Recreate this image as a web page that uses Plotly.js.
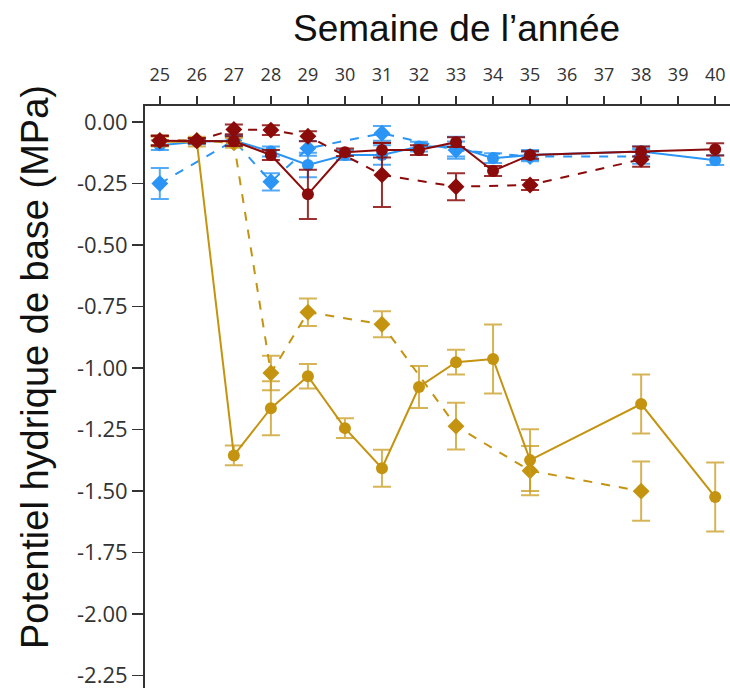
<!DOCTYPE html>
<html><head><meta charset="utf-8">
<script src="https://cdn.plot.ly/plotly-3.0.1.min.js"></script>
<style>html,body{margin:0;padding:0;background:#fff}</style>
</head><body><div id="chart" style="width:730px;height:688px"></div>
<script>
const weeksSolid = [25,26,27,28,29,30,31,32,33,34,35,38,40];
const weeksDashed = [25,26,27,28,29,31,33,35,38];
const weeksBlueDashed = [25,27,28,29,31,33,35,38];

const goldSolid = [-0.08,-0.08,-1.355,-1.163,-1.033,-1.244,-1.407,-1.077,-0.976,-0.963,-1.374,-1.146,-1.524];
const goldSolidErr = [0.02,0.02,0.04,0.11,0.05,0.04,0.075,0.085,0.05,0.14,0.125,0.12,0.14];
const goldDashed = [-0.075,-0.075,-0.085,-1.02,-0.773,-0.822,-1.236,-1.417,-1.50];
const goldDashedErr = [0.02,0.01,0.02,0.07,0.056,0.053,0.095,0.10,0.12];

const redSolid = [-0.076,-0.076,-0.078,-0.134,-0.294,-0.123,-0.114,-0.114,-0.082,-0.199,-0.134,-0.12,-0.111];
const redSolidErr = [0.02,0.01,0.02,0.02,0.1,0.015,0.03,0.02,0.02,0.02,0.015,0.02,0.025];
const redDashed = [-0.076,-0.076,-0.03,-0.033,-0.058,-0.215,-0.263,-0.256,-0.152];
const redDashedErr = [0.02,0.01,0.02,0.02,0.02,0.13,0.055,0.02,0.03];

const blueSolid = [-0.094,-0.08,-0.075,-0.12,-0.175,-0.134,-0.134,-0.10,-0.10,-0.147,-0.134,-0.12,-0.155];
const blueSolidErr = [0.02,0.01,0.02,0.02,0.05,0.02,0.04,0.02,0.04,0.02,0.02,0.02,0.02];
const blueDashed = [-0.25,-0.075,-0.243,-0.107,-0.046,-0.114,-0.14,-0.14];
const blueDashedErr = [0.063,0.02,0.035,0.03,0.03,0.035,0.02,0.03];

const tickWeeks = [25,26,27,28,29,30,31,32,33,34,35,36,37,38,39,40];
const yTicks = [0,-0.25,-0.5,-0.75,-1,-1.25,-1.5,-1.75,-2,-2.25];
const yTickText = ['0.00','-0.25','-0.50','-0.75','-1.00','-1.25','-1.50','-1.75','-2.00','-2.25'];

const GOLD = '#C4930F', GOLD_E = 'rgba(200,155,30,0.75)';
const RED = '#8B0A0A', RED_E = 'rgba(139,10,10,0.85)';
const BLUE = '#2B95F5', BLUE_E = 'rgba(43,149,245,0.8)';

function tr(x, y, err, color, ecolor, dash, symbol){
  return {x:x, y:y, type:'scatter', mode:'lines+markers',
    line:{color:color, width:2, dash:dash},
    marker:{color:color, size: symbol==='diamond'?13:12, symbol:symbol},
    error_y:{type:'data', array:err, visible:true, color:ecolor, thickness:2, width:9},
    showlegend:false, hoverinfo:'x+y'};
}

const data = [
  tr(weeksBlueDashed, blueDashed, blueDashedErr, BLUE, BLUE_E, 'dash', 'diamond'),
  tr(weeksSolid, blueSolid, blueSolidErr, BLUE, BLUE_E, 'solid', 'circle'),
  tr(weeksDashed, goldDashed, goldDashedErr, GOLD, GOLD_E, 'dash', 'diamond'),
  tr(weeksSolid, goldSolid, goldSolidErr, GOLD, GOLD_E, 'solid', 'circle'),
  tr(weeksDashed, redDashed, redDashedErr, RED, RED_E, 'dash', 'diamond'),
  tr(weeksSolid, redSolid, redSolidErr, RED, RED_E, 'solid', 'circle')
];

const TITLE_FONT = '"Liberation Sans", Arial, sans-serif';
const layout = {
  width:730, height:688,
  margin:{l:145, r:0, t:106, b:0},
  paper_bgcolor:'#fff', plot_bgcolor:'#fff',
  font:{family:'"Open Sans", "DejaVu Sans", sans-serif', color:'#333'},
  xaxis:{side:'top', range:[24.6,40.4], tickvals:tickWeeks, ticktext:tickWeeks.map(String),
    ticks:'outside', ticklen:8, tickwidth:1.5, tickcolor:'#333', ticklabelstandoff:8,
    showline:true, linecolor:'#333', linewidth:2, showgrid:false, zeroline:false,
    tickfont:{size:18, color:'#333'}},
  yaxis:{range:[-2.30,0.065], tickvals:yTicks, ticktext:yTickText,
    ticks:'outside', ticklen:11, tickwidth:1.5, tickcolor:'#333', ticklabeloverflow:'allow',
    showline:true, linecolor:'#333', linewidth:2, showgrid:false, zeroline:false,
    tickfont:{size:22, color:'#333'}},
  annotations:[
    {text:'Semaine de l\u2019année', xref:'paper', yref:'paper', x:(456-145)/585, y:1, yshift:78,
     xanchor:'center', yanchor:'middle', showarrow:false,
     font:{family:TITLE_FONT, size:37, color:'#111'}},
    {text:'Potentiel hydrique de base (MPa)', xref:'paper', yref:'paper', x:0, xshift:-110,
     y:(688-367)/582, xanchor:'center', yanchor:'middle', textangle:-90, showarrow:false,
     font:{family:TITLE_FONT, size:38, color:'#111'}}
  ]
};

Plotly.newPlot('chart', data, layout, {displayModeBar:false, staticPlot:true});
</script></body></html>
